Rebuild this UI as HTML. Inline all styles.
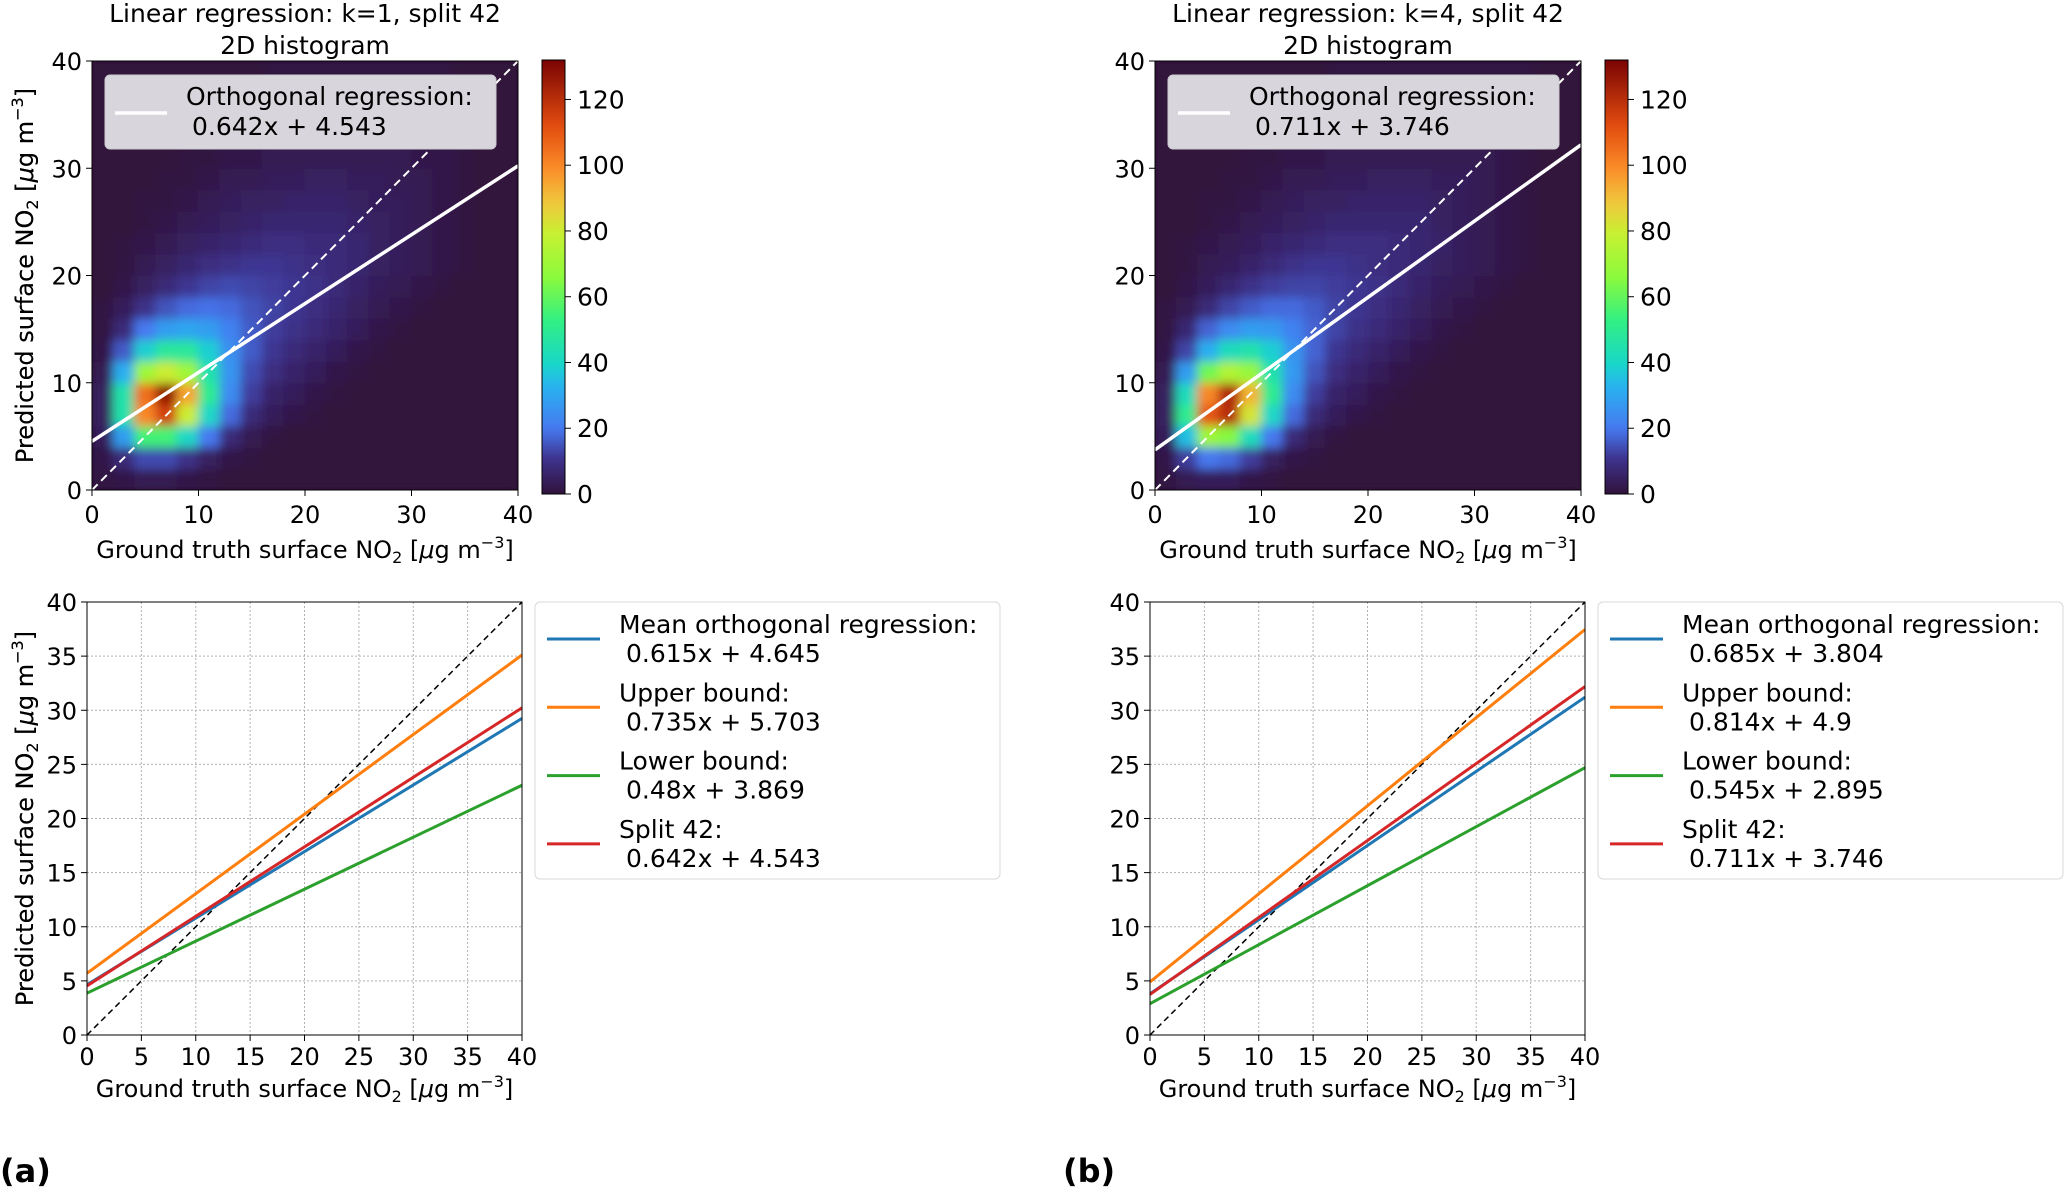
<!DOCTYPE html>
<html><head><meta charset="utf-8"><style>
html,body{margin:0;padding:0;background:#fff;}
svg{display:block;font-family:"DejaVu Sans","Liberation Sans",sans-serif;}
</style></head><body>
<svg id="fig" width="2067" height="1195" viewBox="0 0 2067 1195" xmlns="http://www.w3.org/2000/svg">
<defs>
<filter id="blur" x="-5%" y="-5%" width="110%" height="110%"><feGaussianBlur stdDeviation="5" edgeMode="duplicate"/></filter>
</defs>
</svg>
<script>
// ---------- data ----------
const histBinsX = 20, histBinsY = 20; // bins of width 2 over 0..40
// rows from y=0-2 upward; columns x=0-2 rightward (missing trailing entries = 0)
const histA = [
[1,2,3,3,2,1],
[2,8,14,14,10,5,2,1],
[4,28,55,55,40,20,8,3,1],
[5,45,100,115,80,40,18,8,4,2,1],
[5,45,105,128,95,50,24,12,6,4,2,1],
[3,32,70,80,70,45,26,14,9,6,4,2,1],
[2,16,38,48,48,38,25,16,11,8,6,4,2,1],
[1,8,20,28,30,28,22,16,12,10,8,6,4,2,1],
[1,4,10,15,18,19,18,15,13,11,9,7,5,3,2,1],
[0,2,5,8,11,13,14,13,12,11,10,8,6,4,3,2,1],
[0,1,3,5,7,9,10,11,11,10,9,8,7,5,4,3,2,1],
[0,1,2,3,5,6,7,8,9,9,8,8,7,5,4,3,2,1],
[0,0,1,2,3,4,5,6,7,7,7,7,6,5,4,3,2,1],
[0,0,1,1,2,3,4,5,5,6,6,6,5,4,4,3,2,1],
[0,0,0,1,1,2,3,3,4,4,5,5,4,4,3,3,2,1],
[0,0,0,0,1,1,2,2,3,3,3,3,3,3,3,2,2,1],
[0,0,0,0,0,1,1,2,2,2,2,2,2,2,2,2,1,1],
[0,0,0,0,0,0,1,1,1,1,1,1,1,1,1,1,1,1],
[0,0,0,0,0,0,0,1,1,1,1,1,1,1,1,1,1,1],
[0,0,0,0,0,0,0,0,1,1,1,1,1,1,1,1,1,0]];
const histB = [
[1,3,4,4,2,1],
[2,12,20,18,12,5,2,1],
[4,35,70,65,42,20,8,3,1],
[5,50,110,120,82,40,18,8,4,2,1],
[5,42,100,122,92,50,24,12,6,4,2,1],
[3,28,62,74,68,45,27,15,9,6,4,2,1],
[2,13,32,42,45,38,26,17,11,8,6,4,2,1],
[1,7,17,24,28,27,22,17,13,10,8,6,4,2,1],
[1,3,8,13,16,18,18,16,13,11,9,7,5,3,2,1],
[0,2,4,7,10,12,13,13,12,11,10,8,6,4,3,2,1],
[0,1,3,4,6,8,10,11,11,10,9,8,7,5,4,3,2,1],
[0,1,2,3,4,6,7,8,9,9,9,8,7,6,4,3,2,1],
[0,0,1,2,3,4,5,6,7,7,7,7,7,5,4,3,2,1],
[0,0,1,1,2,3,4,5,5,6,6,6,6,5,4,3,2,1],
[0,0,0,1,1,2,3,3,4,4,5,5,5,4,4,3,2,1],
[0,0,0,0,1,1,2,2,3,3,3,3,3,3,3,3,2,1],
[0,0,0,0,0,1,1,2,2,2,2,2,2,2,2,2,2,1],
[0,0,0,0,0,0,1,1,1,1,1,1,1,1,1,1,1,1],
[0,0,0,0,0,0,0,1,1,1,1,1,1,1,1,1,1,1],
[0,0,0,0,0,0,0,0,1,1,1,1,1,1,1,1,1,1]];
const histTicks = [0,10,20,30,40];
const cbarTicks = [0,20,40,60,80,100,120];
const cbarMax = 132;
const lineTicks = [0,5,10,15,20,25,30,35,40];
const titlesK = ["k=1","k=4"];
const panelLetters = ["(a)","(b)"];
const seriesNames = ["Mean orthogonal regression:","Upper bound:","Lower bound:","Split 42:"];
const seriesColors = ["#1f77b4","#ff7f0e","#2ca02c","#d62728"];
const slopesA = [0.615,0.735,0.48,0.642];
const interceptsA = [4.645,5.703,3.869,4.543];
const slopesB = [0.685,0.814,0.545,0.711];
const interceptsB = [3.804,4.9,2.895,3.746];

// ---------- helpers ----------
const NS="http://www.w3.org/2000/svg";
const svg=document.getElementById('fig');
function el(tag,attrs,parent){const e=document.createElementNS(NS,tag);for(const k in attrs)e.setAttribute(k,attrs[k]);(parent||svg).appendChild(e);return e;}
const CMAP_POS=[0,0.08,0.15,0.25,0.3,0.4,0.5,0.6,0.67,0.75,0.85,1.0];
const CMAP_RGB=[[48,18,59],[62,50,140],[70,120,240],[40,180,240],[25,215,200],[50,240,130],[140,250,60],[200,240,50],[240,200,60],[250,140,40],[225,75,15],[122,4,3]];
function turbo(t){t=Math.max(0,Math.min(1,t));
 let i=0;while(i<CMAP_POS.length-2&&t>CMAP_POS[i+1])i++;
 const f=(t-CMAP_POS[i])/(CMAP_POS[i+1]-CMAP_POS[i]);const a=CMAP_RGB[i],b=CMAP_RGB[i+1];
 return `rgb(${Math.round(a[0]+(b[0]-a[0])*f)},${Math.round(a[1]+(b[1]-a[1])*f)},${Math.round(a[2]+(b[2]-a[2])*f)})`;}
function unitLabel(parent,x,y,prefix,anchor,rot){
 const t=el('text',{x:x,y:y,'font-size':24,'text-anchor':anchor,fill:'#000'},parent);
 if(rot)t.setAttribute('transform',`rotate(-90 ${x} ${y})`);
 const a=el('tspan',{},t);a.textContent=prefix+" NO";
 const s=el('tspan',{'font-size':16,dy:5},t);s.textContent="2";
 const b=el('tspan',{dy:-5},t);b.textContent=" [";
 const mu=el('tspan',{'font-style':'italic'},t);mu.textContent="μ";
 const b2=el('tspan',{},t);b2.textContent="g m";
 const s2=el('tspan',{'font-size':16,dy:-10},t);s2.textContent="−3";
 const c=el('tspan',{dy:10},t);c.textContent="]";
 return t;}

function panel(p){
 const ox=p*1063;
 const hist=p?histB:histA;
 const slopes=p?slopesB:slopesA, inters=p?interceptsB:interceptsA;
 const hx0=92+ox,hx1=518+ox,hy0=61,hy1=490;
 const hX=v=>hx0+(v/40)*(hx1-hx0), hY=v=>hy1-(v/40)*(hy1-hy0);
 const g=el('g',{});
 
 
 const t1=el('text',{x:(hx0+hx1)/2,y:22,'font-size':25,'text-anchor':'middle'},g);t1.textContent="Linear regression: "+titlesK[p]+", split 42";
 
 const t2=el('text',{x:(hx0+hx1)/2,y:54,'font-size':25,'text-anchor':'middle'},g);t2.textContent="2D histogram";
 
 const cid='clip'+p;const cp=el('clipPath',{id:cid},g);el('rect',{x:hx0,y:hy0,width:hx1-hx0,height:hy1-hy0},cp);
 const inner=el('g',{'clip-path':`url(#${cid})`},g);
 el('rect',{x:hx0,y:hy0,width:hx1-hx0,height:hy1-hy0,fill:turbo(0)},inner);
 const cells=el('g',{filter:'url(#blur)'},inner);
 const bw=40/histBinsX,bh=40/histBinsY;
 for(let r=0;r<histBinsY;r++)for(let c=0;c<histBinsX;c++){
  const v=hist[r][c]||0;
  const rc=el('rect',{x:hX(c*bw)-0.5,y:hY((r+1)*bh)-0.5,width:hX(bw)-hX(0)+1,height:hY(0)-hY(bh)+1,fill:turbo(v/cbarMax)},cells);
  
  
 }
 const d=el('line',{x1:hX(0),y1:hY(0),x2:hX(40),y2:hY(40),stroke:'#fff','stroke-width':2,'stroke-dasharray':'8,5'},inner);
 
 const rl=el('line',{x1:hX(0),y1:hY(inters[3]),x2:hX(40),y2:hY(slopes[3]*40+inters[3]),stroke:'#fff','stroke-width':3.5},inner);
 
 el('rect',{x:hx0,y:hy0,width:hx1-hx0,height:hy1-hy0,fill:'none',stroke:'#000','stroke-width':1},g);
 const lg=el('g',{},g);
 el('rect',{x:hx0+13,y:75,width:391,height:74,rx:5,fill:'#d8d5dc',stroke:'#cccccc'},lg);
 el('line',{x1:hx0+23,y1:113,x2:hx0+75,y2:113,stroke:'#fff','stroke-width':3.5},lg);
 const lt1=el('text',{x:hx0+94,y:105,'font-size':25},lg);lt1.textContent="Orthogonal regression:";
 const lt2=el('text',{x:hx0+100,y:135,'font-size':25},lg);lt2.textContent=slopes[3]+"x + "+inters[3];
 histTicks.forEach(v=>{
  el('line',{x1:hX(v),y1:hy1,x2:hX(v),y2:hy1+6,stroke:'#000'},g);
  const tx=el('text',{x:hX(v),y:hy1+33,'font-size':24,'text-anchor':'middle'},g);tx.textContent=v;
  
  el('line',{x1:hx0-6,y1:hY(v),x2:hx0,y2:hY(v),stroke:'#000'},g);
  const ty=el('text',{x:hx0-10,y:hY(v)+9,'font-size':24,'text-anchor':'end'},g);ty.textContent=v;
  
 });
 const xl=unitLabel(g,(hx0+hx1)/2,558,"Ground truth surface",'middle',false);
 
 const yl=unitLabel(g,33,(hy0+hy1)/2,"Predicted surface",'middle',true);
 
 const cx0=542+ox,cx1=565+ox,cy0=60,cy1=494;
 const gid='cg'+p;const lgr=el('linearGradient',{id:gid,x1:0,y1:1,x2:0,y2:0},g);
 for(let i=0;i<=50;i++)el('stop',{offset:i/50,'stop-color':turbo(i/50)},lgr);
 const cb=el('rect',{x:cx0,y:cy0,width:cx1-cx0,height:cy1-cy0,fill:`url(#${gid})`,stroke:'#000','stroke-width':1},g);
 
 const cY=v=>cy1-(v/cbarMax)*(cy1-cy0);
 cbarTicks.forEach(v=>{
  el('line',{x1:cx1,y1:cY(v),x2:cx1+6,y2:cY(v),stroke:'#000'},g);
  const ct=el('text',{x:cx1+12,y:cY(v)+9,'font-size':25},g);ct.textContent=v;
  
 });
 const lx0=87+ox,lx1=522+ox,ly0=602,ly1=1035;
 const X=v=>lx0+(v/40)*(lx1-lx0), Y=v=>ly1-(v/40)*(ly1-ly0);
 const g2=el('g',{});
 
 
 const cid2='clipl'+p;const cp2=el('clipPath',{id:cid2},g2);el('rect',{x:lx0,y:ly0,width:lx1-lx0,height:ly1-ly0},cp2);
 lineTicks.forEach(v=>{
  el('line',{x1:X(v),y1:ly0,x2:X(v),y2:ly1,stroke:'#b0b0b0','stroke-width':1,'stroke-dasharray':'2,2'},g2);
  el('line',{x1:lx0,y1:Y(v),x2:lx1,y2:Y(v),stroke:'#b0b0b0','stroke-width':1,'stroke-dasharray':'2,2'},g2);
 });
 const inner2=el('g',{'clip-path':`url(#${cid2})`},g2);
 const dl=el('line',{x1:X(0),y1:Y(0),x2:X(40),y2:Y(40),stroke:'#000','stroke-width':1.5,'stroke-dasharray':'6,4'},inner2);
 
 for(let i=0;i<4;i++){
  const ln=el('line',{x1:X(0),y1:Y(inters[i]),x2:X(40),y2:Y(slopes[i]*40+inters[i]),stroke:seriesColors[i],'stroke-width':3},inner2);
  
  
 }
 el('rect',{x:lx0,y:ly0,width:lx1-lx0,height:ly1-ly0,fill:'none',stroke:'#000','stroke-width':1},g2);
 lineTicks.forEach(v=>{
  el('line',{x1:X(v),y1:ly1,x2:X(v),y2:ly1+6,stroke:'#000'},g2);
  const tx=el('text',{x:X(v),y:ly1+30,'font-size':24,'text-anchor':'middle'},g2);tx.textContent=v;
  
  el('line',{x1:lx0-6,y1:Y(v),x2:lx0,y2:Y(v),stroke:'#000'},g2);
  const ty=el('text',{x:lx0-10,y:Y(v)+9,'font-size':24,'text-anchor':'end'},g2);ty.textContent=v;
  
 });
 const xl2=unitLabel(g2,(lx0+lx1)/2,1097,"Ground truth surface",'middle',false);
 
 const yl2=unitLabel(g2,33,(ly0+ly1)/2,"Predicted surface",'middle',true);
 
 const lg2=el('g',{},g2);
 el('rect',{x:535+ox,y:602,width:465,height:277,rx:5,fill:'#fff',stroke:'#d9d9d9'},lg2);
 for(let i=0;i<4;i++){
  const yy=639+i*68.3;
  const e=el('g',{},lg2);
  
  
  el('line',{x1:547+ox,y1:yy,x2:600+ox,y2:yy,stroke:seriesColors[i],'stroke-width':3},e);
  const a=el('text',{x:619+ox,y:yy-6,'font-size':25},e);a.textContent=seriesNames[i];
  const b=el('text',{x:626+ox,y:yy+23,'font-size':25},e);b.textContent=slopes[i]+"x + "+inters[i];
 }
 const pl=el('text',{x:(p?1063:0),y:1182,'font-size':32,'font-weight':'bold'});pl.textContent=panelLetters[p];
 
}
panel(0);panel(1);
</script>
</body></html>
